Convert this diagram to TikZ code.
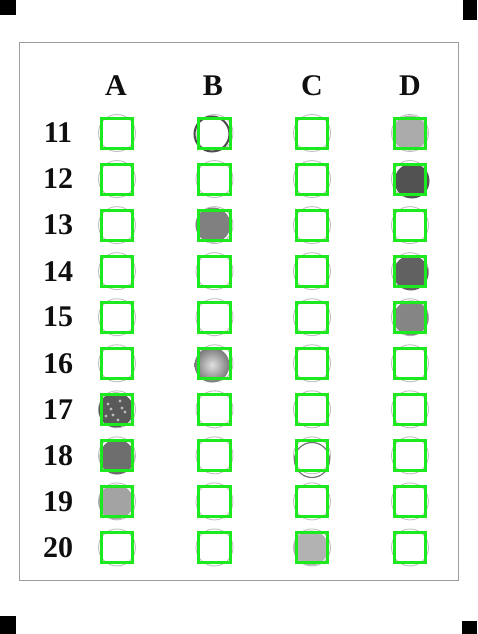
\documentclass[tikz,border=0pt]{standalone}
\usepackage{fontspec}
\setmainfont{Liberation Serif}
\usetikzlibrary{calc}
\definecolor{ombox}{RGB}{30,232,30}
\definecolor{inkc}{RGB}{15,15,15}
\begin{document}
\begin{tikzpicture}[x=1pt,y=-1pt,
  box/.style={draw=ombox, line width=3pt, minimum width=31.5pt, minimum height=30pt, inner sep=0pt},
  bub/.style={circle, minimum size=37pt, inner sep=0pt, draw=black!25, line width=0.9pt},
  markb/.style={circle, minimum size=35pt, inner sep=0pt},
  lab/.style={font=\fontsize{30}{30}\selectfont\bfseries, text=inkc, inner sep=0pt},
  corner/.style={fill=black, draw=none},
  sheet/.style={draw=black!38, line width=1pt}]
\useasboundingbox (0,0) rectangle (477,634);
\fill[white] (0,0) rectangle (477,634);
% corner marks
\fill[corner] (0,0) rectangle (16,15);
\fill[corner] (463,0) rectangle (477,20);
\fill[corner] (0,616) rectangle (16,634);
\fill[corner] (462,621) rectangle (477,634);
% sheet
\draw[sheet] (19,43) rectangle (458,580);
% headers
\foreach \c/\x in {A/116,B/213,C/312,D/410}
  \node[lab] (h\c) at (\x,86) {\c};
% row labels and faint bubbles
\foreach \r [count=\i from 0] in {11,12,13,14,15,16,17,18,19,20}{
  \pgfmathsetmacro{\yy}{133+46.05*\i}
  \node[lab] (n\r) at (58,\yy) {\r};
  \foreach \c/\x in {A/117,B/214.5,C/312,D/410}
    \node[bub] (b\r\c) at (\x,\yy) {};
}
% marked bubbles
\node[markb, fill=black!33] (m11D) at (410,133) {};
\node[markb, draw=black!70, line width=2pt] (m11B) at (212,134) {};
\node[markb, fill=black!68] (m12D) at (412,181) {};
\node[markb, fill=black!50] (m13B) at (213,225) {};
\node[markb, fill=black!62] (m14D) at (411,273) {};
\node[markb, fill=black!48] (m15D) at (411,318) {};
\node[markb, inner color=black!12, outer color=black!52] (m16B) at (212,365) {};
\node[markb, fill=black!65] (m17A) at (116,410) {};
\foreach \dx/\dy in {-8/-6,4/-9,9/2,-3/5,-10/6,2/10,6/-2,-5/-1}
  \fill[white, opacity=0.6] ($(m17A)+(\dx,\dy)$) circle (1.6);
\node[markb, fill=black!57] (m18A) at (117,457) {};
\node[markb, draw=black!55, line width=1.2pt] (m18C) at (312,460) {};
\node[markb, fill=black!36] (m19A) at (116,502) {};
\node[markb, fill=black!30] (m20C) at (311,548) {};
% green boxes
\foreach \r [count=\i from 0] in {11,12,13,14,15,16,17,18,19,20}{
  \pgfmathsetmacro{\yy}{133+46.05*\i}
  \foreach \c/\x in {A/117,B/214.5,C/312,D/410}
    \node[box] (q\r\c) at (\x,\yy) {};
}
\end{tikzpicture}
\end{document}
